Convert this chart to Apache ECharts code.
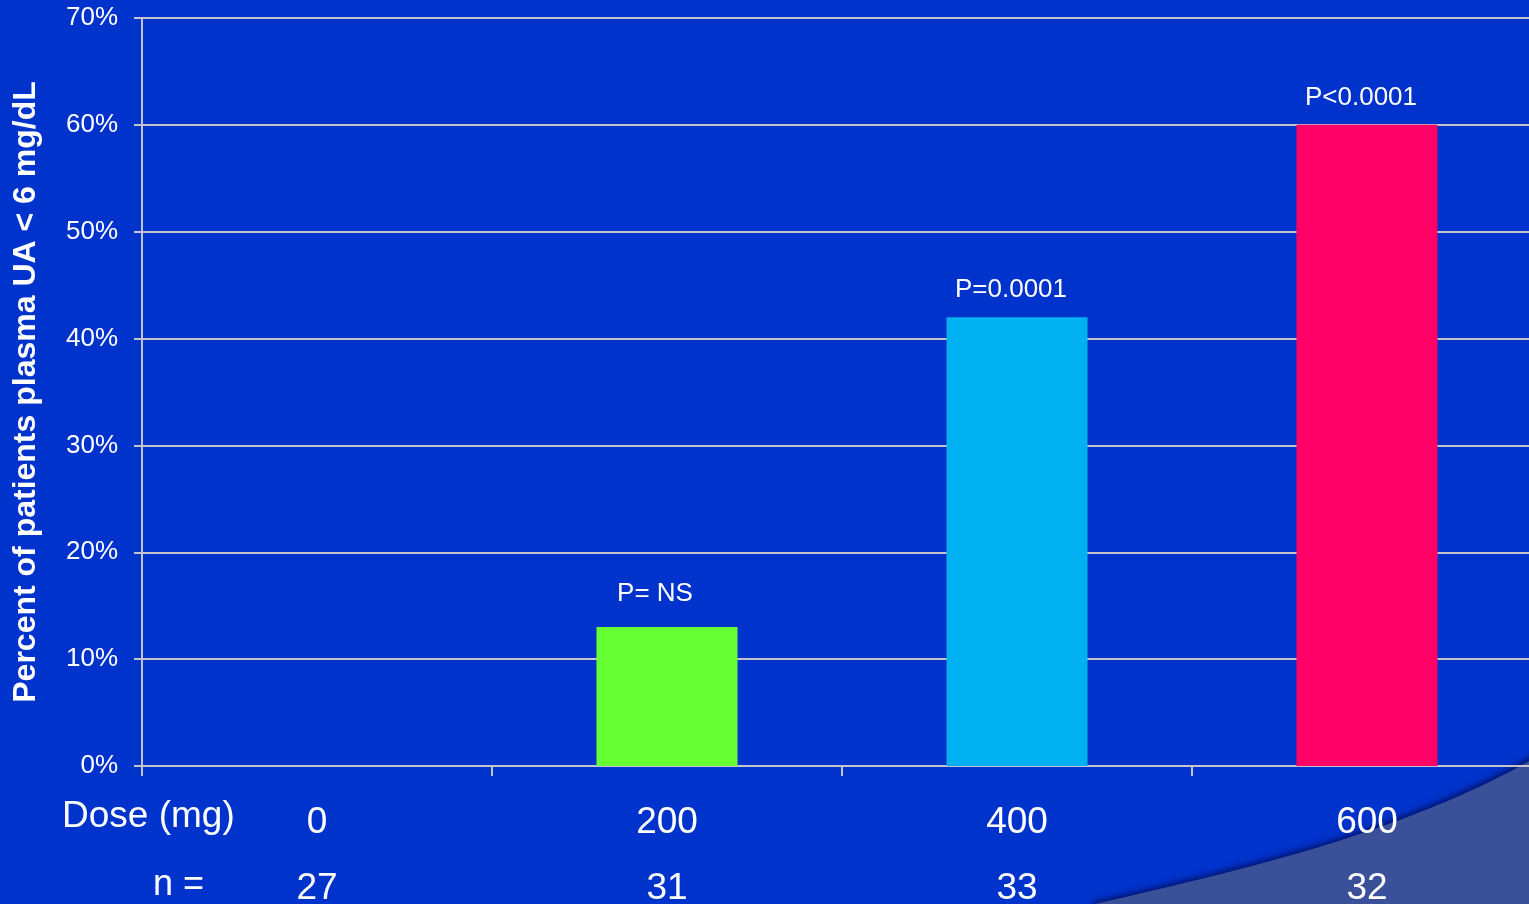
<!DOCTYPE html>
<html>
<head>
<meta charset="utf-8">
<title>Percent of patients plasma UA &lt; 6 mg/dL by dose</title>
<script src="https://cdn.jsdelivr.net/npm/echarts@6/dist/echarts.min.js"></script>
<style>
  html, body { margin: 0; padding: 0; background: #0033CC; }
  #chart { width: 1529px; height: 904px; }
</style>
</head>
<body>
<div id="chart"></div>
<script>
// Doses (mg), patient counts and responder percentages
const doses = ['0', '200', '400', '600'];
const nPatients = [27, 31, 33, 32];
const percentBelow6 = [0, 13, 42, 60];
const pValueLabels = ['', 'P= NS', 'P=0.0001', 'P<0.0001'];
const barColors = ['#66FF33', '#66FF33', '#00B0F0', '#FF0066'];
const yTicks = { min: 0, max: 70, interval: 10 };

const FONT = '"Liberation Sans", Arial, Helvetica, sans-serif';
const GRAY = '#C4C4CC';

// Decorative swoosh in the lower-right corner: a cubic curve closed to the corner
function swooshPoints() {
  const p0 = [1095, 904], p1 = [1260, 866], p2 = [1410, 830], p3 = [1540, 755];
  const pts = [];
  for (let i = 0; i <= 60; i++) {
    const t = i / 60, u = 1 - t;
    const a = u * u * u, b = 3 * u * u * t, c = 3 * u * t * t, d = t * t * t;
    pts.push([
      a * p0[0] + b * p1[0] + c * p2[0] + d * p3[0],
      a * p0[1] + b * p1[1] + c * p2[1] + d * p3[1]
    ]);
  }
  pts.push([1540, 910]);
  pts.push([1095, 910]);
  return pts;
}

const chart = echarts.init(document.getElementById('chart'), null, { renderer: 'canvas' });

const option = {
  backgroundColor: '#0033CC',
  animation: false,
  textStyle: { fontFamily: FONT, color: '#FFFFFF' },
  grid: {
    left: 142, top: 18, width: 1400, height: 748,
    containLabel: false,
    outerBoundsMode: 'none'
  },
  graphic: [
    {
      type: 'polygon',
      z: -10,
      silent: true,
      shape: { points: swooshPoints() },
      style: {
        fill: '#3A5199',
        shadowColor: 'rgba(0,10,80,0.8)',
        shadowBlur: 6,
        shadowOffsetX: -2,
        shadowOffsetY: -2
      }
    },
    {
      type: 'text',
      left: 62,
      top: 798,
      style: { text: 'Dose (mg)', fill: '#FFFFFF', font: '37px ' + FONT }
    },
    {
      type: 'text',
      left: 153,
      top: 867,
      style: { text: 'n =', fill: '#FFFFFF', font: '36px ' + FONT }
    }
  ],
  xAxis: {
    type: 'category',
    data: doses,
    axisLine: { show: true, lineStyle: { color: GRAY, width: 2 } },
    axisTick: { show: true, length: 10, lineStyle: { color: GRAY, width: 2 } },
    axisLabel: {
      margin: 24,
      formatter: function (value, idx) {
        return '{d|' + value + '}\n{n|' + nPatients[idx] + '}';
      },
      rich: {
        d: { fontSize: 37, lineHeight: 66, color: '#FFFFFF', fontFamily: FONT },
        n: { fontSize: 37, lineHeight: 66, color: '#FFFFFF', fontFamily: FONT }
      }
    }
  },
  yAxis: {
    type: 'value',
    min: yTicks.min,
    max: yTicks.max,
    interval: yTicks.interval,
    name: 'Percent of patients plasma UA < 6 mg/dL',
    nameLocation: 'middle',
    nameGap: 100,
    nameTextStyle: { color: '#FFFFFF', fontSize: 32, fontWeight: 'bold', fontFamily: FONT },
    axisLine: { show: true, lineStyle: { color: GRAY, width: 2 } },
    axisTick: { show: true, length: 8, lineStyle: { color: GRAY, width: 2 } },
    axisLabel: {
      formatter: '{value}%',
      color: '#FFFFFF',
      fontSize: 26,
      margin: 24,
      fontFamily: FONT
    },
    splitLine: { show: true, lineStyle: { color: GRAY, width: 2 } }
  },
  series: [
    {
      type: 'bar',
      barWidth: '40.3%',
      data: percentBelow6.map(function (v, i) {
        return {
          value: v,
          itemStyle: { color: barColors[i] },
          label: {
            show: pValueLabels[i] !== '',
            formatter: pValueLabels[i],
            distance: i === 1 ? 20 : 14,
            offset: i === 1 ? [-12, 0] : [-6, 0]
          }
        };
      }),
      label: {
        show: true,
        position: 'top',
        color: '#FFFFFF',
        fontSize: 26,
        fontFamily: FONT
      }
    }
  ]
};

chart.setOption(option);
</script>
</body>
</html>
